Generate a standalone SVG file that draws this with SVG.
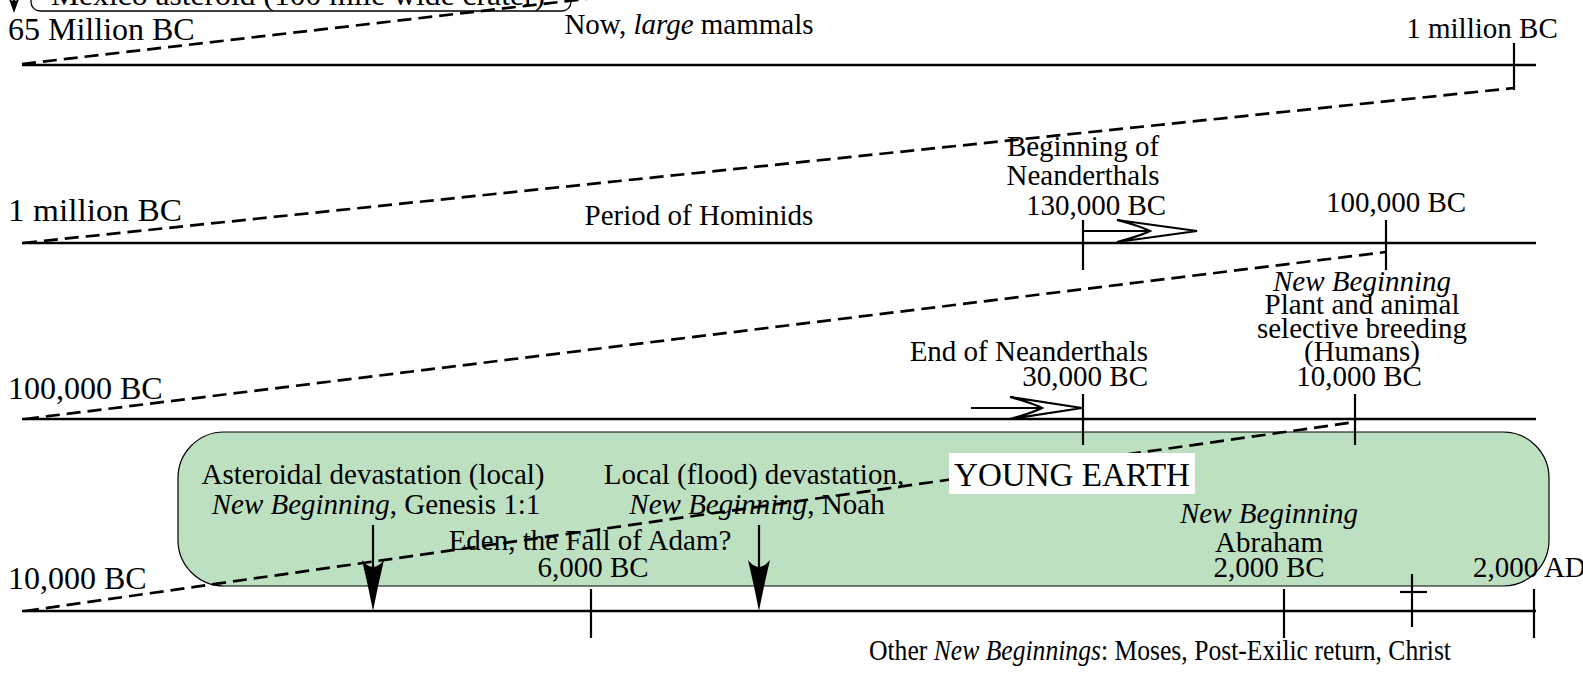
<svg xmlns="http://www.w3.org/2000/svg" width="1583" height="677" viewBox="0 0 1583 677">
<defs>
<style>
.t{font-family:"Liberation Serif","Times New Roman",serif;font-size:29px;fill:#000}
.big{font-size:32px}
.it{font-style:italic}
.m{text-anchor:middle}
.e{text-anchor:end}
.ax{stroke:#000;stroke-width:2.5;fill:none}
.tick{stroke:#000;stroke-width:2.2;fill:none}
.dash{stroke:#000;stroke-width:2.7;stroke-dasharray:14 7;fill:none}
.open{stroke:#000;stroke-width:2.2;fill:#fff;stroke-linejoin:miter}
.solid{fill:#000;stroke:none}
</style>
</defs>
<rect width="1583" height="677" fill="#fff"/>

<g id="young-earth">
<rect x="178" y="432" width="1371" height="154" rx="46" ry="46" fill="#bde0c0" stroke="#000" stroke-width="1.2"/>
</g>

<g id="mexico-asteroid">
<rect x="31" y="-30" width="540" height="41" rx="9" ry="9" fill="#fff" stroke="#000" stroke-width="1.3"/>
<text class="t m" x="298" y="5" textLength="494" lengthAdjust="spacingAndGlyphs">Mexico asteroid (100 mile wide crater)</text>
</g>

<g id="timeline-65m">
<line class="ax" x1="22" y1="65" x2="1536" y2="65"/>
<text class="t big" x="8" y="40">65 Million BC</text>
<text class="t m" x="689" y="34">Now, <tspan class="it">large</tspan> mammals</text>
<text class="t m" x="1482" y="38">1 million BC</text>
<line class="tick" x1="1514" y1="43" x2="1514" y2="90"/>
</g>

<g id="timeline-1m">
<line class="ax" x1="22" y1="243" x2="1536" y2="243"/>
<text class="t big" x="8" y="221" textLength="174" lengthAdjust="spacingAndGlyphs">1 million BC</text>
<text class="t m" x="699" y="225">Period of Hominids</text>
<text class="t m" x="1083" y="156">Beginning of</text>
<text class="t m" x="1083" y="185">Neanderthals</text>
<text class="t m" x="1096" y="215">130,000 BC</text>
<line class="tick" x1="1083" y1="220" x2="1083" y2="270"/>
<text class="t m" x="1396" y="212">100,000 BC</text>
<line class="tick" x1="1386" y1="220" x2="1386" y2="270"/>
</g>

<g id="timeline-100k">
<line class="ax" x1="22" y1="419" x2="1536" y2="419"/>
<text class="t big" x="8" y="399">100,000 BC</text>
<text class="t e" x="1148" y="361">End of Neanderthals</text>
<text class="t e" x="1148" y="386">30,000 BC</text>
<line class="tick" x1="1083" y1="394" x2="1083" y2="445"/>
<text class="t m it" x="1362" y="291">New Beginning</text>
<text class="t m" x="1362" y="314">Plant and animal</text>
<text class="t m" x="1362" y="338">selective breeding</text>
<text class="t m" x="1362" y="361">(Humans)</text>
<text class="t m" x="1359" y="386">10,000 BC</text>
<line class="tick" x1="1355" y1="394" x2="1355" y2="445"/>
</g>

<g id="timeline-10k">
<line class="ax" x1="22" y1="611" x2="1536" y2="611"/>
<text class="t big" x="8" y="589">10,000 BC</text>
<text class="t m" x="373" y="484">Asteroidal devastation (local)</text>
<text class="t m" x="376" y="514"><tspan class="it">New Beginning</tspan>, Genesis 1:1</text>
<text class="t m" x="754" y="484">Local (flood) devastation,</text>
<text class="t m" x="757" y="514"><tspan class="it">New Beginning</tspan>, Noah</text>
<text class="t m" x="590" y="550">Eden, the Fall of Adam?</text>
<text class="t m" x="593" y="577">6,000 BC</text>
<line class="tick" x1="591" y1="589" x2="591" y2="638"/>
<text class="t m it" x="1269" y="523">New Beginning</text>
<text class="t m" x="1269" y="552">Abraham</text>
<text class="t m" x="1269" y="577">2,000 BC</text>
<line class="tick" x1="1284" y1="589" x2="1284" y2="638"/>
<line class="tick" x1="1412" y1="574" x2="1412" y2="627"/>
<line class="tick" x1="1400" y1="592" x2="1427" y2="592"/>
<text class="t" x="1473" y="577">2,000 AD</text>
<line class="tick" x1="1534" y1="589" x2="1534" y2="638"/>
<text class="t m" x="1160" y="660" style="font-size:29px" textLength="582" lengthAdjust="spacingAndGlyphs">Other <tspan class="it">New Beginnings</tspan>: Moses, Post-Exilic return, Christ</text>
</g>

<g id="connectors">
<line class="dash" x1="22" y1="64" x2="620" y2="-5"/>
<line class="dash" x1="23" y1="243" x2="1514" y2="88"/>
<line class="dash" x1="25" y1="419" x2="1386" y2="252"/>
<line class="dash" x1="25" y1="611" x2="1355" y2="422"/>
<line class="tick" x1="1083" y1="231" x2="1150" y2="231"/>
<path class="open" d="M1117,220 L1197,231 L1117,242 Q1140,236 1150,231 Q1140,226 1117,220 Z"/>
<line class="tick" x1="971" y1="408" x2="1045" y2="408"/>
<path class="open" d="M1010,397 L1082,408 L1010,419 Q1032,413 1042,408 Q1032,403 1010,397 Z"/>
<line class="tick" x1="373" y1="525" x2="373" y2="580"/>
<path class="solid" d="M373,611 Q368,585 362,560 Q373,574 384,560 Q378,585 373,611 Z"/>
<line class="tick" x1="759" y1="525" x2="759" y2="580"/>
<path class="solid" d="M759,611 Q754,585 748,560 Q759,574 770,560 Q764,585 759,611 Z"/>
<line class="tick" x1="14" y1="-5" x2="14" y2="5"/>
<path class="solid" d="M14,13 L9,-1 Q14,3 19,-1 Z"/>
</g>

<g id="young-earth-label">
<rect x="949" y="453" width="246" height="41" fill="#fff"/>
<text class="t m" x="1072" y="486" style="font-size:34px" textLength="236" lengthAdjust="spacingAndGlyphs">YOUNG EARTH</text>
</g>
</svg>
